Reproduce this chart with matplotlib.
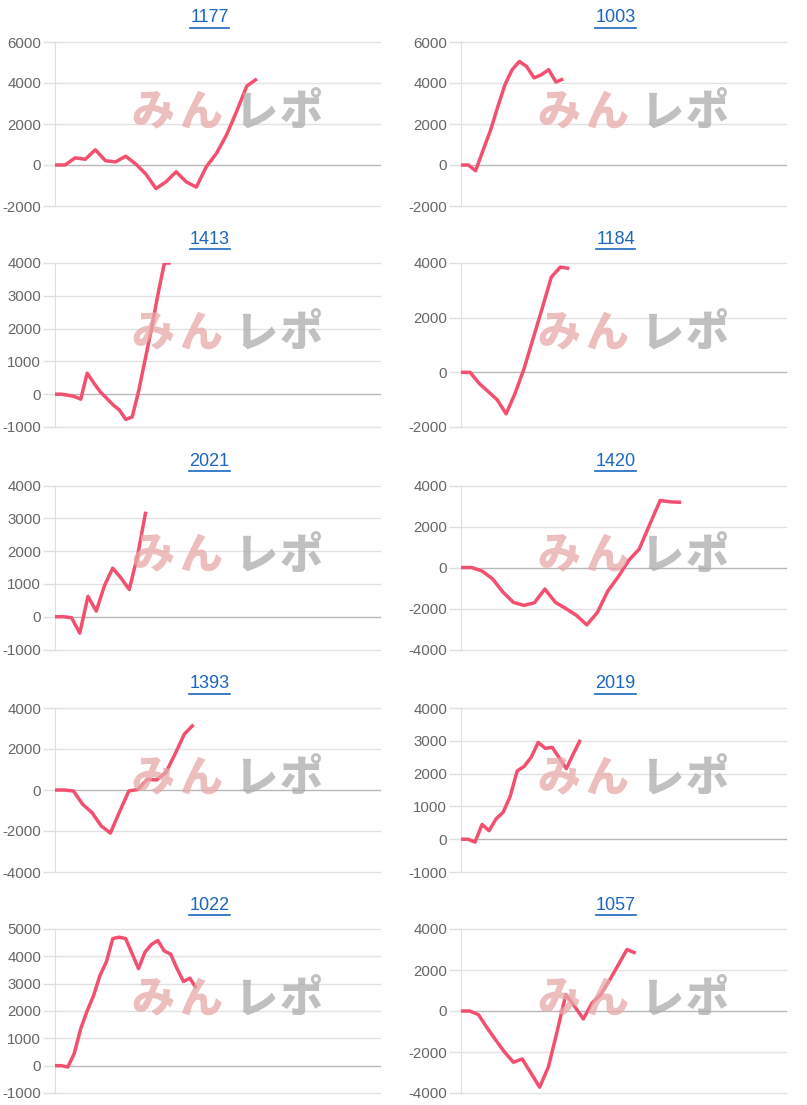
import matplotlib
matplotlib.use("Agg")
import matplotlib.pyplot as plt
from matplotlib.lines import Line2D

plt.rcParams['font.family'] = ['Liberation Sans', 'Noto Sans CJK JP', 'DejaVu Sans']

# machine numbers (panel titles), left-to-right, top-to-bottom
titles = ['1177', '1003', '1413', '1184', '2021', '1420', '1393', '2019', '1022', '1057']

# coin difference per sample
d1177 = [0, 0, 350, 280, 740, 210, 150, 430, 50, -440, -1150, -820, -330, -820, -1080,
         -80, 570, 1470, 2620, 3850, 4200]
d1003 = [0, 0, -280, 700, 1650, 2800, 3900, 4650, 5050, 4800, 4250, 4400, 4650, 4050, 4200]
d1413 = [0, 0, -30, -70, -150, 640, 350, 80, -120, -320, -480, -770, -690, 100, 1050,
         2000, 3050, 4000, 4000]
d1184 = [0, 0, -400, -700, -1000, -1520, -760, 150, 1250, 2350, 3480, 3850, 3800]
d2021 = [0, 0, -30, -500, 620, 170, 950, 1480, 1180, 830, 1850, 3200]
d1420 = [0, 0, -170, -550, -1200, -1700, -1850, -1720, -1050, -1700, -2000, -2330, -2800,
         -2200, -1150, -450, 350, 900, 2100, 3270, 3200, 3180]
d1393 = [0, 0, -50, -700, -1100, -1750, -2100, -1050, -50, 30, 520, 490, 850, 1750, 2720, 3190]
d2019 = [0, 0, -90, 450, 260, 620, 820, 1300, 2080, 2220, 2500, 2950, 2770, 2800, 2480,
         2150, 2600, 3030]
d1022 = [0, 0, -50, 450, 1350, 2000, 2560, 3300, 3800, 4650, 4700, 4650, 4100, 3550, 4150,
         4430, 4580, 4200, 4080, 3550, 3080, 3200, 2830]
d1057 = [0, 0, -180, -830, -1430, -2010, -2500, -2340, -3020, -3720, -2730, -1000, 800, 230,
         -390, 390, 800, 1500, 2250, 3000, 2820]
series = [d1177, d1003, d1413, d1184, d2021, d1420, d1393, d2019, d1022, d1057]

# x axis length (samples) and y axis range/step per panel
x_span = [32.2, 44.5, 50.5, 36, 39.4, 31, 35.2, 46.3, 50.6, 37.2]
y_min = [-2000, -2000, -1000, -2000, -1000, -4000, -4000, -1000, -1000, -4000]
y_max = [6000, 6000, 4000, 4000, 4000, 4000, 4000, 4000, 5000, 4000]
y_step = [2000, 2000, 1000, 2000, 1000, 2000, 2000, 1000, 1000, 2000]

W, H = 807, 1105
fig = plt.figure(figsize=(W / 100, H / 100), dpi=100)

line_color = '#f2506e'
title_color = '#1a66c0'
col_left = [55, 461]
ax_w = 325
row_top = [42, 263, 485.5, 708, 929]
ax_h = 164

titles_txt = []
for i, (name, ys) in enumerate(zip(titles, series)):
    r, c = divmod(i, 2)
    left, top = col_left[c], row_top[r]
    ax = fig.add_axes([left / W, 1 - (top + ax_h) / H, ax_w / W, ax_h / H])
    ax.plot(range(len(ys)), ys, color=line_color, lw=2.5, solid_joinstyle='round',
            solid_capstyle='butt', zorder=3)
    ax.set_xlim(0, x_span[i])
    ax.set_ylim(y_min[i], y_max[i])
    ticks = list(range(y_min[i], y_max[i] + 1, y_step[i]))
    ax.set_yticks(ticks)
    ax.set_yticklabels([str(t) for t in ticks])
    ax.set_xticks([])
    for t in ticks:
        ax.axhline(t, color='#b8b8b8' if t == 0 else '#e2e2e2', lw=1, zorder=1, clip_on=False)
    for s in ['top', 'right', 'bottom']:
        ax.spines[s].set_visible(False)
    ax.spines['left'].set_color('#e0e0e0')
    ax.tick_params(axis='y', length=9, width=1, color='#e0e0e0', pad=1,
                   labelsize=10.8, labelcolor='#666666')

    # watermark logo
    for ch, dx, col in [('み', -0.234, '#e7a9a9'), ('ん', -0.086, '#e7a9a9'),
                        ('レ', 0.083, '#ababab'), ('ポ', 0.222, '#ababab')]:
        ax.text(0.535 + dx, 0.57, ch, transform=ax.transAxes, ha='center', va='center',
                fontsize=31, fontweight='heavy', color=col, alpha=0.75,
                family=['Noto Sans CJK JP'], zorder=4)

    cx = left + ax_w / 2 - 8
    ty = top - 24
    t = fig.text(cx / W, 1 - ty / H, name, ha='center', va='center',
                 fontsize=13, color=title_color)
    titles_txt.append(t)

# underline the titles (they are links)
fig.canvas.draw()
for t in titles_txt:
    bb = t.get_window_extent()
    y = bb.y0 - 1
    fig.add_artist(Line2D([bb.x0 / W, bb.x1 / W], [y / H, y / H],
                          transform=fig.transFigure, color=title_color, lw=1.2))

fig.savefig('out.png', dpi=100, facecolor='white')
